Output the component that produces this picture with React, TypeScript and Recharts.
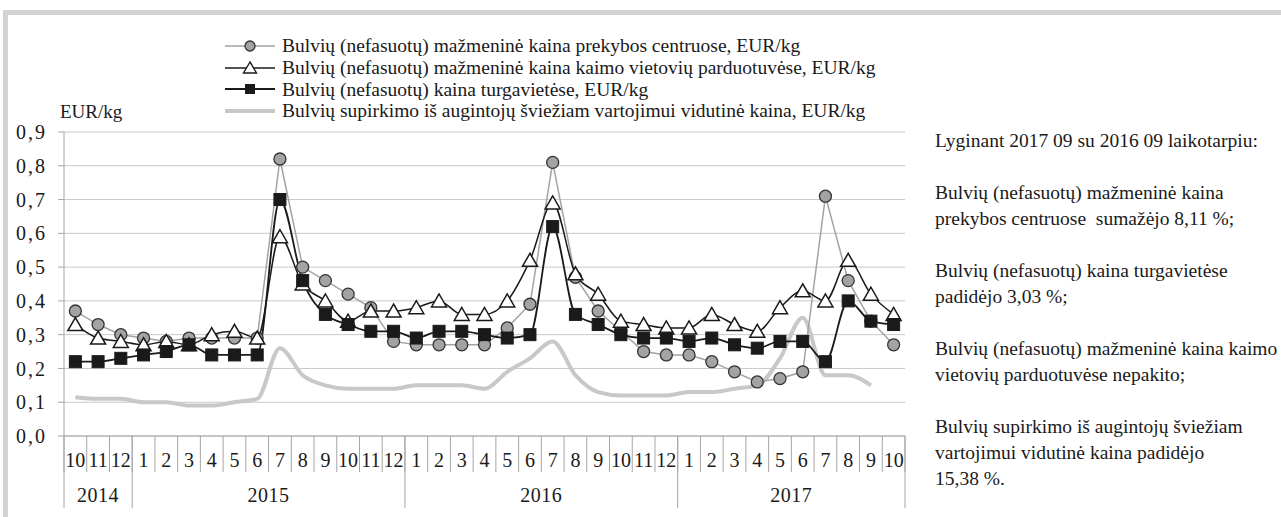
import React from 'react';
import { ComposedChart, Line, XAxis, YAxis, CartesianGrid } from 'recharts';

const periods = [
  '2014-10', '2014-11', '2014-12',
  '2015-01', '2015-02', '2015-03', '2015-04', '2015-05', '2015-06', '2015-07', '2015-08', '2015-09', '2015-10', '2015-11', '2015-12',
  '2016-01', '2016-02', '2016-03', '2016-04', '2016-05', '2016-06', '2016-07', '2016-08', '2016-09', '2016-10', '2016-11', '2016-12',
  '2017-01', '2017-02', '2017-03', '2017-04', '2017-05', '2017-06', '2017-07', '2017-08', '2017-09', '2017-10',
];
const monthLabels = ['10', '11', '12', '1', '2', '3', '4', '5', '6', '7', '8', '9', '10', '11', '12', '1', '2', '3', '4', '5', '6', '7', '8', '9', '10', '11', '12', '1', '2', '3', '4', '5', '6', '7', '8', '9', '10'];
const yearLabels = ['2014', '2015', '2016', '2017'];

const retailCentres = [0.37, 0.33, 0.30, 0.29, 0.28, 0.29, 0.29, 0.29, 0.29, 0.82, 0.50, 0.46, 0.42, 0.38, 0.28, 0.27, 0.27, 0.27, 0.27, 0.32, 0.39, 0.81, 0.47, 0.37, 0.31, 0.25, 0.24, 0.24, 0.22, 0.19, 0.16, 0.17, 0.19, 0.71, 0.46, 0.34, 0.27];
const ruralShops = [0.33, 0.29, 0.28, 0.27, 0.28, 0.27, 0.30, 0.31, 0.29, 0.59, 0.45, 0.40, 0.34, 0.37, 0.37, 0.38, 0.40, 0.36, 0.36, 0.40, 0.52, 0.69, 0.48, 0.42, 0.34, 0.33, 0.32, 0.32, 0.36, 0.33, 0.31, 0.38, 0.43, 0.40, 0.52, 0.42, 0.36];
const markets = [0.22, 0.22, 0.23, 0.24, 0.25, 0.27, 0.24, 0.24, 0.24, 0.70, 0.46, 0.36, 0.33, 0.31, 0.31, 0.29, 0.31, 0.31, 0.30, 0.29, 0.30, 0.62, 0.36, 0.33, 0.30, 0.29, 0.29, 0.28, 0.29, 0.27, 0.26, 0.28, 0.28, 0.22, 0.40, 0.34, 0.33];
const purchase: (number | null)[] = [0.115, 0.11, 0.11, 0.10, 0.10, 0.09, 0.09, 0.10, 0.11, 0.26, 0.18, 0.15, 0.14, 0.14, 0.14, 0.15, 0.15, 0.15, 0.14, 0.19, 0.23, 0.28, 0.18, 0.13, 0.12, 0.12, 0.12, 0.13, 0.13, 0.14, 0.15, 0.23, 0.35, 0.18, 0.18, 0.15, null];
const yTicks = [0, 0.1, 0.2, 0.3, 0.4, 0.5, 0.6, 0.7, 0.8, 0.9];

const seriesNames = [
  'Bulvių (nefasuotų) mažmeninė kaina prekybos centruose, EUR/kg',
  'Bulvių (nefasuotų) mažmeninė kaina kaimo vietovių parduotuvėse, EUR/kg',
  'Bulvių (nefasuotų) kaina turgavietėse, EUR/kg',
  'Bulvių supirkimo iš augintojų šviežiam vartojimui vidutinė kaina, EUR/kg',
];
const noteLines = [
  ['Lyginant 2017 09 su 2016 09 laikotarpiu:'],
  ['Bulvių (nefasuotų) mažmeninė kaina', 'prekybos centruose  sumažėjo 8,11 %;'],
  ['Bulvių (nefasuotų) kaina turgavietėse', 'padidėjo 3,03 %;'],
  ['Bulvių (nefasuotų) mažmeninė kaina kaimo', 'vietovių parduotuvėse nepakito;'],
  ['Bulvių supirkimo iš augintojų šviežiam', 'vartojimui vidutinė kaina padidėjo', '15,38 %.'],
];

const data = periods.map((p, i) => ({
  period: p,
  retail: retailCentres[i],
  rural: ruralShops[i],
  market: markets[i],
  purchase: purchase[i],
}));

const FONT = '"Liberation Serif", "Times New Roman", Tinos, "DejaVu Serif", serif';
const W = 1281;
const H = 517;
const MARGIN = { top: 132, right: 376, left: 0, bottom: 0 };
const Y_W = 64;
const MONTH_H = 36;
const YEAR_H = 45;
const BW = (W - MARGIN.left - MARGIN.right - Y_W) / periods.length;
const AXIS_GRAY = '#a6a6a6';
const TEXT = '#1a1a1a';

const yearOf = (p: string) => p.slice(0, 4);

const MonthTick = (props: any) => {
  const { x, y, payload } = props;
  const i = periods.indexOf(payload.value);
  return (
    <g>
      <line x1={x - BW / 2} x2={x - BW / 2} y1={y} y2={y + MONTH_H} stroke={AXIS_GRAY} strokeWidth={1} />
      {i === periods.length - 1 && (
        <line x1={x + BW / 2} x2={x + BW / 2} y1={y} y2={y + MONTH_H} stroke={AXIS_GRAY} strokeWidth={1} />
      )}
      <text x={x} y={y + 31} textAnchor="middle" fontSize={20} fontFamily={FONT} fill={TEXT}>
        {monthLabels[i]}
      </text>
    </g>
  );
};

const YearTick = (props: any) => {
  const { x, y, payload } = props;
  const i = periods.indexOf(payload.value);
  const yr = yearOf(periods[i]);
  const isFirst = i === 0 || yearOf(periods[i - 1]) !== yr;
  const isLast = i === periods.length - 1;
  let label: React.ReactNode = null;
  if (isFirst) {
    const count = periods.filter((p) => yearOf(p) === yr).length;
    const cx = x + ((count - 1) / 2) * BW;
    const yi = yearLabels.indexOf(yr);
    label = (
      <text x={cx} y={y + 30} textAnchor="middle" fontSize={20} fontFamily={FONT} fill={TEXT} letterSpacing={0.5}>
        {yearLabels[yi]}
      </text>
    );
  }
  return (
    <g>
      {isFirst && (
        <line x1={x - BW / 2} x2={x - BW / 2} y1={y - MONTH_H} y2={y + 36} stroke={AXIS_GRAY} strokeWidth={1} />
      )}
      {isLast && (
        <line x1={x + BW / 2} x2={x + BW / 2} y1={y - MONTH_H} y2={y + 36} stroke={AXIS_GRAY} strokeWidth={1} />
      )}
      {label}
    </g>
  );
};

const CircleDot = (props: any) => {
  const { cx, cy, value } = props;
  if (value == null || cx == null || cy == null) return null;
  return <circle cx={cx} cy={cy} r={6} fill="#a3a3a3" stroke="#333" strokeWidth={1.3} />;
};
const TriangleDot = (props: any) => {
  const { cx, cy, value } = props;
  if (value == null || cx == null || cy == null) return null;
  return (
    <polygon
      points={`${cx},${cy - 7} ${cx - 7.5},${cy + 6} ${cx + 7.5},${cy + 6}`}
      fill="#fff"
      stroke={TEXT}
      strokeWidth={1.5}
      strokeLinejoin="miter"
    />
  );
};
const SquareDot = (props: any) => {
  const { cx, cy, value } = props;
  if (value == null || cx == null || cy == null) return null;
  return <rect x={cx - 6} y={cy - 6} width={12} height={12} fill={TEXT} stroke={TEXT} strokeWidth={1} />;
};

const LegendIcon = ({ kind }: { kind: number }) => (
  <svg width={56} height={20} style={{ display: 'block' }}>
    {kind === 0 && (
      <g>
        <line x1={3} x2={53} y1={10} y2={10} stroke="#a3a3a3" strokeWidth={1.5} />
        <circle cx={28} cy={10} r={5} fill="#a3a3a3" stroke="#333" strokeWidth={1.3} />
      </g>
    )}
    {kind === 1 && (
      <g>
        <line x1={3} x2={53} y1={10} y2={10} stroke={TEXT} strokeWidth={1.5} />
        <polygon points="28,4 21.5,15 34.5,15" fill="#fff" stroke={TEXT} strokeWidth={1.4} />
      </g>
    )}
    {kind === 2 && (
      <g>
        <line x1={3} x2={53} y1={10} y2={10} stroke={TEXT} strokeWidth={1.8} />
        <rect x={23} y={5} width={10} height={10} fill={TEXT} />
      </g>
    )}
    {kind === 3 && <line x1={3} x2={53} y1={10} y2={10} stroke="#c8c8c8" strokeWidth={4} />}
  </svg>
);

export default function App() {
  return (
    <div style={{ position: 'absolute', left: 0, top: 0, width: W, height: H, background: '#fff', overflow: 'hidden', fontFamily: FONT }}>
      <div style={{ position: 'absolute', left: 3, top: 10, width: W, height: 5, background: '#d2d2d2' }} />
      <div style={{ position: 'absolute', left: 3, top: 10, width: 5, height: H, background: '#d2d2d2' }} />

      <div style={{ position: 'absolute', left: 222, top: 35 }}>
        {seriesNames.map((n, k) => (
          <div key={k} style={{ display: 'flex', alignItems: 'center', height: 21.7 }}>
            <LegendIcon kind={k} />
            <span style={{ fontSize: 19.5, color: TEXT, whiteSpace: 'pre', marginLeft: 4, lineHeight: '21px' }}>{n}</span>
          </div>
        ))}
      </div>

      <div style={{ position: 'absolute', left: 60, top: 101, fontSize: 19, color: TEXT }}>EUR/kg</div>

      <div style={{ position: 'absolute', left: 0, top: 0 }}>
        <ComposedChart width={W} height={H} data={data} margin={MARGIN}>
          <CartesianGrid horizontal vertical={false} stroke="#c8c8c8" strokeWidth={1} />
          <XAxis
            dataKey="period"
            scale="band"
            interval={0}
            height={MONTH_H}
            tickSize={0}
            tickMargin={0}
            tickLine={false}
            axisLine={{ stroke: AXIS_GRAY }}
            tick={<MonthTick />}
            padding={{ left: 0, right: 0 }}
          />
          <XAxis
            xAxisId="year"
            dataKey="period"
            scale="band"
            interval={0}
            height={YEAR_H}
            tickSize={0}
            tickMargin={0}
            tickLine={false}
            axisLine={false}
            tick={<YearTick />}
            padding={{ left: 0, right: 0 }}
          />
          <YAxis
            width={Y_W}
            domain={[0, 0.9]}
            ticks={yTicks}
            interval={0}
            allowDecimals
            tickFormatter={(v: number) => v.toFixed(1).replace('.', ',')}
            tick={{ fontSize: 20, fontFamily: FONT, fill: TEXT, letterSpacing: 2 }}
            tickSize={6}
            tickMargin={11}
            tickLine={{ stroke: AXIS_GRAY }}
            axisLine={{ stroke: AXIS_GRAY }}
          />
          <Line
            dataKey="purchase"
            type="monotone"
            stroke="#c8c8c8"
            strokeWidth={4}
            dot={false}
            activeDot={false}
            connectNulls={false}
            isAnimationActive={false}
          />
          <Line
            dataKey="retail"
            type="linear"
            stroke="#a3a3a3"
            strokeWidth={1.5}
            dot={<CircleDot />}
            activeDot={false}
            isAnimationActive={false}
          />
          <Line
            dataKey="rural"
            type="monotone"
            stroke={TEXT}
            strokeWidth={1.5}
            dot={<TriangleDot />}
            activeDot={false}
            isAnimationActive={false}
          />
          <Line
            dataKey="market"
            type="monotone"
            stroke={TEXT}
            strokeWidth={1.8}
            dot={<SquareDot />}
            activeDot={false}
            isAnimationActive={false}
          />
        </ComposedChart>
      </div>

      <div style={{ position: 'absolute', left: 935, top: 128, fontSize: 19.5, color: TEXT, lineHeight: '26px' }}>
        {noteLines.map((block, b) => (
          <div key={b} style={{ marginBottom: 26 }}>
            {block.map((l, j) => (
              <div key={j} style={{ whiteSpace: 'pre' }}>{l}</div>
            ))}
          </div>
        ))}
      </div>
    </div>
  );
}
